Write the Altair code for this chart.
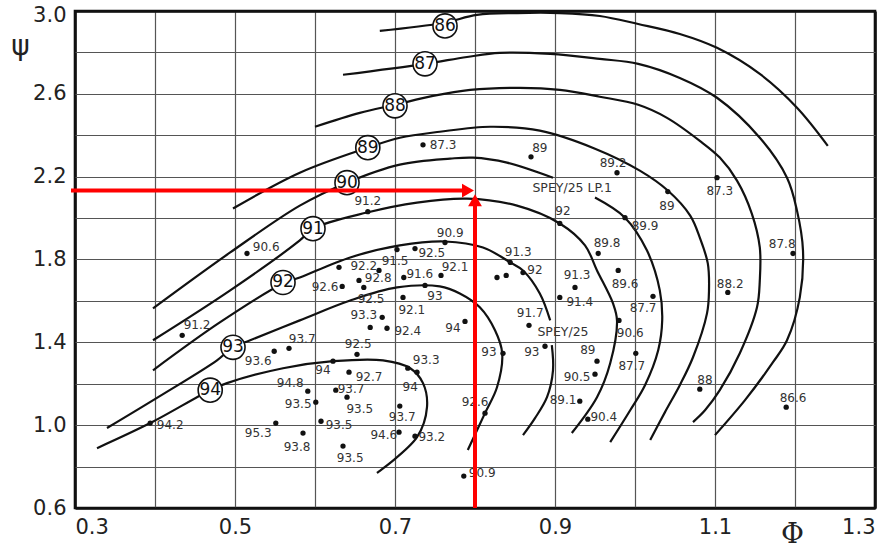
import altair as alt
import pandas as pd

# ---------------- efficiency contours (phi, psi) ----------------
c86_phi = [0.681, 0.76, 0.8025, 0.8525, 0.906, 0.956, 1.004, 1.056, 1.1025, 1.156, 1.2025, 1.241]
c86_psi = [2.904, 2.942, 2.981, 2.990, 2.990, 2.976, 2.937, 2.889, 2.822, 2.696, 2.533, 2.349]

c87_phi = [0.635, 0.7375, 0.79, 0.831, 0.894, 0.956, 1.004, 1.056, 1.1025, 1.156, 1.19, 1.2025,
           1.21, 1.206, 1.19, 1.1725, 1.1375, 1.1]
c87_psi = [2.692, 2.745, 2.778, 2.798, 2.793, 2.769, 2.745, 2.677, 2.581, 2.388, 2.195, 2.036,
           1.843, 1.617, 1.410, 1.304, 1.121, 0.952]

c88_phi = [0.6, 0.656, 0.7, 0.7475, 0.794, 0.856, 0.906, 0.956, 1.004, 1.04, 1.081, 1.106, 1.1275,
           1.146, 1.156, 1.156, 1.1525, 1.131, 1.106, 1.0875, 1.0725]
c88_psi = [2.441, 2.508, 2.547, 2.590, 2.619, 2.629, 2.619, 2.586, 2.547, 2.484, 2.373, 2.292, 2.181,
           2.022, 1.858, 1.699, 1.569, 1.347, 1.169, 1.072, 1.015]

c89_phi = [0.4975, 0.581, 0.666, 0.706, 0.756, 0.819, 0.881, 0.95, 1.006, 1.041, 1.069, 1.081,
           1.091, 1.0925, 1.09, 1.0725, 1.056, 1.0375, 1.019]
c89_psi = [2.046, 2.219, 2.340, 2.388, 2.417, 2.441, 2.422, 2.335, 2.229, 2.133, 2.012, 1.906,
           1.781, 1.651, 1.540, 1.328, 1.193, 1.063, 0.928]

c90a_phi = [0.3975, 0.494, 0.581, 0.64, 0.706, 0.769, 0.7975, 0.84, 0.8975]
c90a_psi = [1.564, 1.834, 2.060, 2.171, 2.258, 2.287, 2.292, 2.268, 2.195]
c90b_phi = [0.95, 0.9875, 1.015, 1.031, 1.034, 1.029, 1.0125, 0.994, 0.969]
c90b_psi = [2.099, 2.002, 1.843, 1.651, 1.506, 1.362, 1.193, 1.072, 0.918]

c91_phi = [0.3975, 0.494, 0.581, 0.5975, 0.665, 0.7275, 0.79, 0.8525, 0.906, 0.9375, 0.9525,
           0.9725, 0.9775, 0.969, 0.9525, 0.921]
c91_psi = [1.410, 1.651, 1.892, 1.949, 2.027, 2.075, 2.094, 2.060, 1.974, 1.868, 1.747,
           1.588, 1.506, 1.299, 1.135, 0.962]

c92a_phi = [0.3975, 0.481, 0.56, 0.581, 0.644, 0.706, 0.7625, 0.81, 0.844, 0.86, 0.881, 0.894]
c92a_psi = [1.265, 1.496, 1.684, 1.713, 1.810, 1.868, 1.887, 1.858, 1.786, 1.747, 1.636, 1.506]
c92b_phi = [0.896, 0.8975, 0.89, 0.875, 0.86]
c92b_psi = [1.386, 1.265, 1.135, 1.034, 0.952]

c93_phi = [0.34, 0.406, 0.4775, 0.4975, 0.519, 0.581, 0.644, 0.7025, 0.756, 0.781, 0.806, 0.825,
           0.834, 0.8275, 0.8125, 0.791]
c93_psi = [0.986, 1.140, 1.313, 1.376, 1.410, 1.506, 1.602, 1.665, 1.670, 1.636, 1.569, 1.458,
           1.347, 1.183, 1.058, 0.880]

c94_phi = [0.3275, 0.394, 0.469, 0.49, 0.56, 0.6225, 0.685, 0.719, 0.735, 0.74, 0.7275, 0.6775]
c94_psi = [0.889, 1.010, 1.169, 1.203, 1.275, 1.309, 1.313, 1.275, 1.203, 1.087, 0.942, 0.769]

# circled contour labels
ring_eta = ["86", "87", "88", "89", "90", "91", "92", "93", "94"]
ring_phi = [0.7625, 0.7375, 0.7, 0.666, 0.64, 0.5975, 0.56, 0.4975, 0.469]
ring_psi = [2.928, 2.745, 2.542, 2.340, 2.171, 1.949, 1.689, 1.376, 1.169]

# ---------------- measured points ----------------
pt_phi = [0.735, 0.87, 0.9775, 1.1025, 1.041, 0.9875, 1.1975, 0.906, 0.954, 0.979,
          1.0225, 1.116, 0.98, 1.001, 0.925, 0.906, 0.8675, 0.8875, 0.835, 0.7875,
          0.8125, 0.9525, 0.95, 0.931, 0.941, 1.081, 1.189, 0.7625, 0.844, 0.86,
          0.8275, 0.839, 0.666, 0.7025, 0.725, 0.63, 0.68, 0.655, 0.661, 0.634,
          0.711, 0.7575, 0.7375, 0.71, 0.684, 0.669, 0.69, 0.515, 0.434, 0.5675,
          0.549, 0.6525, 0.6225, 0.716, 0.7275, 0.6425, 0.591, 0.626, 0.64, 0.601,
          0.706, 0.551, 0.6075, 0.585, 0.705, 0.725, 0.635, 0.394, 0.786]
pt_psi = [2.354, 2.296, 2.219, 2.195, 2.128, 2.002, 1.829, 1.974, 1.829, 1.747,
          1.622, 1.641, 1.506, 1.347, 1.665, 1.617, 1.482, 1.381, 1.347, 1.501,
          1.058, 1.309, 1.246, 1.116, 1.029, 1.174, 1.087, 1.882, 1.786, 1.737,
          1.713, 1.723, 2.031, 1.848, 1.853, 1.762, 1.747, 1.699, 1.665, 1.670,
          1.713, 1.723, 1.675, 1.617, 1.521, 1.472, 1.468, 1.829, 1.434, 1.371,
          1.357, 1.342, 1.309, 1.275, 1.256, 1.256, 1.164, 1.169, 1.135, 1.111,
          1.092, 1.010, 1.019, 0.962, 0.966, 0.947, 0.899, 1.010, 0.754]
pt_eta = ["87.3", "89", "89.2", "87.3", "89", "89.9", "87.8", "92", "89.8", "89.6",
          "87.7", "88.2", "90.6", "87.7", "91.3", "91.4", "91.7", "93", "93", "94",
          "92.6", "89", "90.5", "89.1", "90.4", "88", "86.6", "90.9", "91.3", "92",
          "", "", "91.2", "91.5", "92.5", "92.2", "", "92.8", "92.5", "92.6",
          "91.6", "92.1", "93", "92.1", "93.3", "", "92.4", "90.6", "91.2", "93.7",
          "93.6", "92.5", "94", "93.3", "94", "92.7", "94.8", "93.7", "93.5", "93.5",
          "93.7", "95.3", "93.5", "93.8", "94.6", "93.2", "93.5", "94.2", "90.9"]
lab_phi = [0.76, 0.881, 0.9725, 1.106, 1.04, 1.0125, 1.184, 0.91, 0.965, 0.9875,
           1.01, 1.119, 0.994, 0.996, 0.9275, 0.931, 0.869, 0.871, 0.8175, 0.7725,
           0.8, 0.941, 0.9275, 0.91, 0.961, 1.0875, 1.1975, 0.769, 0.854, 0.875,
           0.8275, 0.839, 0.666, 0.7, 0.746, 0.661, 0.68, 0.679, 0.67, 0.6125,
           0.731, 0.775, 0.75, 0.721, 0.661, 0.669, 0.716, 0.539, 0.4525, 0.584,
           0.529, 0.654, 0.61, 0.739, 0.719, 0.6675, 0.569, 0.645, 0.656, 0.579,
           0.709, 0.529, 0.63, 0.5775, 0.686, 0.746, 0.644, 0.419, 0.809]
lab_psi = [2.354, 2.340, 2.268, 2.133, 2.060, 1.964, 1.877, 2.036, 1.882, 1.684,
           1.564, 1.684, 1.443, 1.284, 1.723, 1.593, 1.540, 1.352, 1.352, 1.468,
           1.111, 1.362, 1.231, 1.121, 1.039, 1.217, 1.130, 1.930, 1.834, 1.747,
           1.713, 1.723, 2.084, 1.795, 1.829, 1.771, 1.747, 1.709, 1.607, 1.665,
           1.728, 1.762, 1.622, 1.554, 1.530, 1.472, 1.453, 1.858, 1.482, 1.415,
           1.309, 1.390, 1.265, 1.313, 1.183, 1.231, 1.203, 1.174, 1.077, 1.101,
           1.039, 0.962, 1.000, 0.894, 0.952, 0.942, 0.841, 1.000, 0.769]

note_text = ["SPEY/25 LP.1", "SPEY/25"]
note_phi = [0.9215, 0.91]
note_psi = [2.145, 1.448]

# red design-point arrows
arrow_phi = 0.8
arrow_psi = 2.133
arrow_tip_psi = 2.12
arrow_start_phi = 0.295
arrow_start_psi = 0.6

# axes
x_ticks = [0.3, 0.4, 0.5, 0.6, 0.7, 0.8, 0.9, 1.0, 1.1, 1.2, 1.3]
x_labeled = [0.3, 0.5, 0.7, 0.9, 1.1, 1.3]
y_ticks = [0.6, 0.8, 1.0, 1.2, 1.4, 1.6, 1.8, 2.0, 2.2, 2.4, 2.6, 2.8, 3.0]
y_labeled = [0.6, 1.0, 1.4, 1.8, 2.2, 2.6, 3.0]

# ---------------- build tables ----------------
curves = [("86", c86_phi, c86_psi), ("87", c87_phi, c87_psi), ("88", c88_phi, c88_psi),
          ("89", c89_phi, c89_psi), ("90a", c90a_phi, c90a_psi), ("90b", c90b_phi, c90b_psi),
          ("91", c91_phi, c91_psi), ("92a", c92a_phi, c92a_psi), ("92b", c92b_phi, c92b_psi),
          ("93", c93_phi, c93_psi), ("94", c94_phi, c94_psi)]
rows = []
for name, xs_, ys_ in curves:
    for i, (a, b) in enumerate(zip(xs_, ys_)):
        rows.append({"c": name, "i": i, "phi": a, "psi": b})
df_curves = pd.DataFrame(rows)
df_pts = pd.DataFrame({"phi": pt_phi, "psi": pt_psi})
df_lab = pd.DataFrame({"phi": lab_phi, "psi": lab_psi, "t": pt_eta})
df_lab = df_lab[df_lab["t"] != ""]
df_ring = pd.DataFrame({"phi": ring_phi, "psi": ring_psi, "t": ring_eta})
df_note = pd.DataFrame({"phi": note_phi, "psi": note_psi, "t": note_text})
df_h = pd.DataFrame({"phi": [arrow_start_phi], "phi2": [arrow_phi], "psi": [arrow_psi]})
df_v = pd.DataFrame({"phi": [arrow_phi], "psi": [arrow_start_psi], "psi2": [arrow_tip_psi]})
df_ht = pd.DataFrame({"phi": [arrow_phi], "psi": [arrow_psi]})
df_vt = pd.DataFrame({"phi": [arrow_phi], "psi": [arrow_tip_psi]})

xs = alt.Scale(domain=[0.3, 1.3], nice=False, zero=False)
ys = alt.Scale(domain=[0.6, 3.0], nice=False, zero=False)

def lab_expr(vals):
    codes = ",".join(str(int(round(v * 10))) for v in vals)
    return f"indexof([{codes}], round(datum.value*10)) >= 0 ? format(datum.value, '.1f') : ''"

FONT = "DejaVu Sans"
x_axis = alt.Axis(values=x_ticks, labelExpr=lab_expr(x_labeled), grid=True, ticks=False, domain=False,
                  labelFontSize=21, labelFont=FONT, labelColor="#222", labelPadding=8,
                  labelFlush=True, labelOverlap=False,
                  gridColor={"condition": {"test": "datum.value == 0.3 || datum.value == 1.3", "value": "#111"}, "value": "#555"},
                  gridWidth={"condition": {"test": "datum.value == 0.3 || datum.value == 1.3", "value": 2.6}, "value": 1.2},
                  title="Φ", titleFont="DejaVu Serif", titleFontSize=28, titleFontWeight="normal",
                  titleColor="#222", titleX=717, titleY=26, titleBaseline="middle", titleAlign="center")
y_axis = alt.Axis(values=y_ticks, labelExpr=lab_expr(y_labeled), grid=True, ticks=False, domain=False,
                  labelFontSize=21, labelFont=FONT, labelColor="#222", labelPadding=9,
                  labelOverlap=False, labelBaseline="middle",
                  labelOffset={"condition": {"test": "datum.value == 3.0", "value": 4},
                               "value": {"expr": "0"}} if False else
                              {"condition": {"test": "datum.value == 3.0", "value": 4}, "value": 0},
                  gridColor={"condition": {"test": "datum.value == 0.6 || datum.value == 3.0", "value": "#111"}, "value": "#555"},
                  gridWidth={"condition": {"test": "datum.value == 0.6 || datum.value == 3.0", "value": 2.6}, "value": 1.2},
                  title="ψ", titleFont=FONT, titleFontSize=28, titleFontWeight="normal", titleColor="#222",
                  titleAngle=0, titleX=-55, titleY=35, titleBaseline="middle", titleAlign="center")

X = alt.X("phi:Q", scale=xs, axis=x_axis)
Y = alt.Y("psi:Q", scale=ys, axis=y_axis)

lines = alt.Chart(df_curves).mark_line(color="#111", strokeWidth=2.2, interpolate="catmull-rom").encode(
    x=X, y=Y, detail="c:N", order="i:Q")
dots = alt.Chart(df_pts).mark_circle(color="#111", size=28, opacity=1).encode(x=X, y=Y)
labels = alt.Chart(df_lab).mark_text(font=FONT, fontSize=12, color="#333", align="center",
                                     baseline="middle").encode(x=X, y=Y, text="t:N")
notes = alt.Chart(df_note).mark_text(font=FONT, fontSize=12.5, color="#333", align="center",
                                     baseline="middle").encode(x=X, y=Y, text="t:N")
rings = alt.Chart(df_ring).mark_point(shape="circle", filled=True, fill="white", stroke="#111",
                                      strokeWidth=1.6, size=580, opacity=1).encode(x=X, y=Y)
ring_txt = alt.Chart(df_ring).mark_text(font=FONT, fontSize=17, color="#111", align="center",
                                        baseline="middle").encode(x=X, y=Y, text="t:N")
hline = alt.Chart(df_h).mark_rule(color="#ff0000", strokeWidth=4, x2Offset=-8).encode(
    x=X, x2="phi2:Q", y=Y)
vline = alt.Chart(df_v).mark_rule(color="#ff0000", strokeWidth=4, y2Offset=8).encode(
    x=X, y=Y, y2="psi2:Q")
hhead = alt.Chart(df_ht).mark_point(shape="triangle-right", filled=True, color="#ff0000", size=190,
                                    opacity=1, xOffset=-7).encode(x=X, y=Y)
vhead = alt.Chart(df_vt).mark_point(shape="triangle-up", filled=True, color="#ff0000", size=190,
                                    opacity=1, yOffset=7).encode(x=X, y=Y)

chart = alt.layer(lines, dots, labels, notes, rings, ring_txt, hline, vline, hhead, vhead).properties(
    width=800, height=497,
    autosize=alt.AutoSizeParams(type="none"),
    padding={"left": 75, "top": 11, "right": 6, "bottom": 47},
    background="white",
).configure_view(stroke="#111", strokeWidth=2.6)

chart.save("out.html", embed_options={"renderer": "svg", "actions": False})
